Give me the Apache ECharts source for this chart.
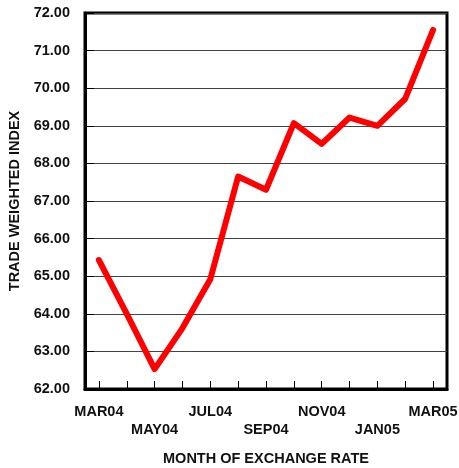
<!DOCTYPE html>
<html><head><meta charset="utf-8">
<script src="https://cdn.jsdelivr.net/npm/echarts@6/dist/echarts.min.js"></script>
<style>html,body{margin:0;padding:0;background:#fff}#c{width:459px;height:468px}</style>
</head><body><div id="c"></div>
<script>
const months = ['MAR04','APR04','MAY04','JUN04','JUL04','AUG04','SEP04','OCT04','NOV04','DEC04','JAN05','FEB05','MAR05'];
const twiValues = [65.43, 64.0, 62.53, 63.62, 64.92, 67.65, 67.3, 69.07, 68.52, 69.22, 69.0, 69.72, 71.55];
const yMin = 62, yMax = 72, yStep = 1;
const xTitle = 'MONTH OF EXCHANGE RATE';
const yTitle = 'TRADE WEIGHTED INDEX';

const font = 'Liberation Sans, Arial, sans-serif';
const fs = 14.5;
const chart = echarts.init(document.getElementById('c'), null, {renderer:'canvas'});
chart.setOption({
  animation:false,
  backgroundColor:'#fff',
  grid:{left:85, right:12, top:13, bottom:79, outerBoundsMode:'none', containLabel:false,
    show:true, borderColor:'#000', borderWidth:3, backgroundColor:'transparent'},
  xAxis:{
    type:'category', data:months, boundaryGap:true,
    name:xTitle, nameLocation:'middle', nameGap:62,
    nameTextStyle:{fontFamily:font, fontWeight:'bold', fontSize:fs, color:'#111'},
    axisLine:{show:true, lineStyle:{color:'#000', width:3}},
    axisTick:{show:true, inside:true, length:8, alignWithLabel:true, interval:0, lineStyle:{color:'#000', width:1}},
    axisLabel:{interval:0, margin:14, fontFamily:font, fontWeight:'bold', fontSize:fs, color:'#111', lineHeight:18,
      formatter:function(v, i){ return i%4===0 ? v : (i%4===2 ? '\n'+v : ''); }},
    splitLine:{show:false}
  },
  yAxis:{
    type:'value', min:yMin, max:yMax, interval:yStep,
    name:yTitle, nameLocation:'middle', nameGap:63, nameRotate:90,
    nameTextStyle:{fontFamily:font, fontWeight:'bold', fontSize:fs, color:'#111'},
    axisLine:{show:true, lineStyle:{color:'#000', width:3}},
    axisTick:{show:true, inside:true, length:9, lineStyle:{color:'#000', width:1}},
    axisLabel:{margin:15, fontFamily:font, fontWeight:'bold', fontSize:fs, color:'#111',
      formatter:function(v){ return v.toFixed(2); }},
    splitLine:{show:true, lineStyle:{color:'#444', width:1}}
  },
  series:[{
    type:'line', data:twiValues, showSymbol:false, symbol:'none',
    lineStyle:{color:'#ff0000', width:6, cap:'round', join:'round'}
  }]
});
</script></body></html>
